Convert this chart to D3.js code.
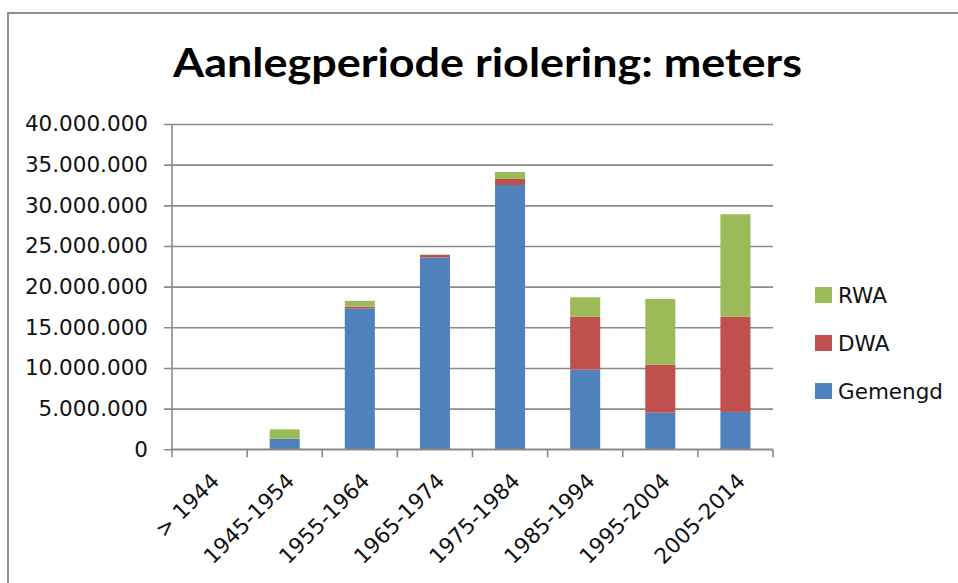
<!DOCTYPE html>
<html>
<head>
<meta charset="utf-8">
<script src="https://cdn.jsdelivr.net/npm/d3@7/dist/d3.min.js"></script>
<style>
  html, body { margin: 0; padding: 0; background: #ffffff; }
  svg { display: block; }
</style>
</head>
<body>
<svg id="chart" width="958" height="583"></svg>
<script>
// Aanlegperiode riolering (meters) per periode, gestapeld per stelseltype
const categories = ["> 1944", "1945-1954", "1955-1964", "1965-1974", "1975-1984", "1985-1994", "1995-2004", "2005-2014"];
const gemengd = [0, 1300000, 17300000, 23600000, 32500000, 9800000, 4500000, 4600000];
const dwa     = [0, 0, 250000, 300000, 750000, 6500000, 5900000, 11700000];
const rwa     = [0, 1150000, 700000, 50000, 850000, 2400000, 8100000, 12600000];
const seriesNames = ["Gemengd", "DWA", "RWA"];
const seriesColors = ["#4F81BD", "#C0504D", "#9BBB59"];
const yTicks = [0, 5000000, 10000000, 15000000, 20000000, 25000000, 30000000, 35000000, 40000000];
const title = "Aanlegperiode riolering: meters";

const svg = d3.select("#chart");
const plot = { left: 172, right: 773, top: 124, bottom: 449.3 };

const nl = d3.formatLocale({ decimal: ",", thousands: ".", grouping: [3], currency: ["€", ""] });
const fmt = nl.format(",");

// chart frame
svg.append("rect")
  .attr("x", 8).attr("y", 13)
  .attr("width", 1000).attr("height", 1000)
  .attr("fill", "#ffffff")
  .attr("stroke", "#8f8f8f").attr("stroke-width", 2);

// title
svg.append("text")
  .attr("x", 487.5).attr("y", 77)
  .attr("text-anchor", "middle")
  .attr("font-family", "Lato, 'Open Sans', sans-serif")
  .attr("font-weight", 700)
  .attr("font-size", 40)
  .attr("textLength", 629)
  .attr("lengthAdjust", "spacingAndGlyphs")
  .attr("fill", "#000000")
  .text(title);

const x = d3.scaleBand()
  .domain(categories)
  .range([plot.left, plot.right])
  .paddingInner(0.6)
  .paddingOuter(0.3);

const y = d3.scaleLinear()
  .domain([0, 40000000])
  .range([plot.bottom, plot.top]);

const width = plot.right - plot.left;

// y axis with gridlines and outside tick marks
const yAxis = svg.append("g")
  .attr("transform", `translate(${plot.left},0)`)
  .call(d3.axisLeft(y).tickValues(yTicks).tickFormat(fmt).tickSize(8).tickPadding(16));
yAxis.select(".domain").remove();
yAxis.selectAll(".tick line")
  .attr("x1", -8).attr("x2", width)
  .attr("stroke", "#8a8a8a").attr("stroke-width", 1.6);
yAxis.selectAll(".tick text")
  .attr("font-family", "'DejaVu Sans', sans-serif")
  .attr("font-size", 21.5)
  .attr("fill", "#111111");

// vertical axis line
svg.append("line")
  .attr("x1", plot.left).attr("x2", plot.left)
  .attr("y1", plot.top).attr("y2", plot.bottom)
  .attr("stroke", "#8a8a8a").attr("stroke-width", 1.6);

// stacked bars
const rows = categories.map((c, i) => ({ cat: c, Gemengd: gemengd[i], DWA: dwa[i], RWA: rwa[i] }));
const stack = d3.stack().keys(seriesNames)(rows);
const color = d3.scaleOrdinal(seriesNames, seriesColors);

svg.append("g").selectAll("g")
  .data(stack)
  .join("g")
  .attr("fill", d => color(d.key))
  .selectAll("rect")
  .data(d => d)
  .join("rect")
  .attr("x", d => x(d.data.cat))
  .attr("width", x.bandwidth())
  .attr("y", d => y(d[1]))
  .attr("height", d => Math.max(0, y(d[0]) - y(d[1])));

// x axis: baseline, ticks between categories, rotated labels
const gap = (x.step() - x.bandwidth()) / 2;
const boundaries = categories.map(c => x(c) - gap).concat([x(categories[categories.length - 1]) + x.bandwidth() + gap]);

svg.append("line")
  .attr("x1", plot.left).attr("x2", plot.right)
  .attr("y1", plot.bottom).attr("y2", plot.bottom)
  .attr("stroke", "#8a8a8a").attr("stroke-width", 1.6);

svg.append("g").selectAll("line")
  .data(boundaries)
  .join("line")
  .attr("x1", d => d).attr("x2", d => d)
  .attr("y1", plot.bottom).attr("y2", plot.bottom + 8)
  .attr("stroke", "#8a8a8a").attr("stroke-width", 1.6);

const xAxis = svg.append("g")
  .attr("transform", `translate(0,${plot.bottom})`)
  .call(d3.axisBottom(x).tickSize(0).tickPadding(0));
xAxis.select(".domain").remove();
xAxis.selectAll(".tick text")
  .attr("font-family", "'DejaVu Sans', sans-serif")
  .attr("font-size", 21.5)
  .attr("fill", "#111111")
  .attr("text-anchor", "end")
  .attr("dy", 0)
  .attr("y", 0)
  .attr("transform", "translate(11,33) rotate(-45)");

// legend (RWA on top, Gemengd at bottom)
const legendItems = ["RWA", "DWA", "Gemengd"];
const legend = svg.append("g");
legendItems.forEach((name, i) => {
  const cy = 295 + i * 48;
  legend.append("rect")
    .attr("x", 815).attr("y", cy - 8)
    .attr("width", 17).attr("height", 16)
    .attr("fill", color(name));
  legend.append("text")
    .attr("x", 838).attr("y", cy + 8)
    .attr("font-family", "'DejaVu Sans', sans-serif")
    .attr("font-size", 21.5)
    .attr("fill", "#111111")
    .text(name);
});
</script>
</body>
</html>
